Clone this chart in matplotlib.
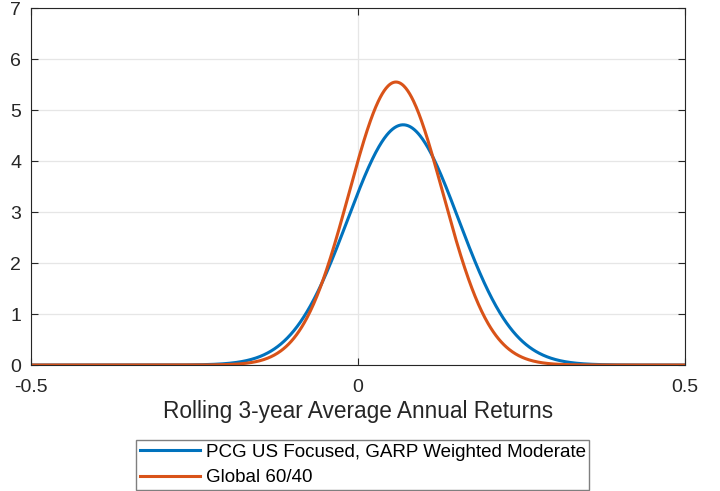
import numpy as np
import matplotlib
matplotlib.use("Agg")
import matplotlib.pyplot as plt

plt.rcParams["font.family"] = ["Liberation Sans", "DejaVu Sans"]

# fitted normal distributions (peak height / position)
series_names = ["PCG US Focused, GARP Weighted Moderate", "Global 60/40"]
series_means = [0.069, 0.058]
series_stds = [0.0847, 0.0719]
series_colors = ["#0072BD", "#D95319"]

x_ticks = [-0.5, 0, 0.5]
x_tick_labels = ["-0.5", "0", "0.5"]
y_ticks = [0, 1, 2, 3, 4, 5, 6, 7]

x = np.linspace(-0.5, 0.5, 1001)

fig = plt.figure(figsize=(7.2, 4.91), dpi=100)
ax = fig.add_axes([0.0431, 0.2566, 0.9083, 0.7271])

for name, mu, sd, c in zip(series_names, series_means, series_stds, series_colors):
    y = np.exp(-0.5 * ((x - mu) / sd) ** 2) / (sd * np.sqrt(2 * np.pi))
    ax.plot(x, y, color=c, linewidth=2.2, label=name)

ax.set_xlim(-0.5, 0.5)
ax.set_ylim(0, 7)
ax.set_xticks(x_ticks)
ax.set_xticklabels(x_tick_labels)
ax.set_yticks(y_ticks)
ax.grid(True, color="#e6e6e6", linewidth=0.9)
ax.set_axisbelow(True)
ax.tick_params(direction="in", length=5, width=0.8, top=True, right=True,
               labelsize=14, colors="#262626")
ax.tick_params(axis="x", pad=10)
ax.tick_params(axis="y", pad=7)
for sp in ax.spines.values():
    sp.set_color("#262626")
    sp.set_linewidth(0.8)

ax.set_xlabel("Rolling 3-year Average Annual Returns", fontsize=16.3, color="#262626", labelpad=3)

ax.legend(loc="upper center", bbox_to_anchor=(0.504, 0.104), bbox_transform=fig.transFigure,
          ncol=1, fontsize=13.5, handlelength=3.2, handletextpad=0.3, borderpad=0.2,
          labelspacing=0.45, borderaxespad=0, fancybox=False, edgecolor="#7f7f7f",
          framealpha=1)

fig.savefig("out.png", dpi=100)
